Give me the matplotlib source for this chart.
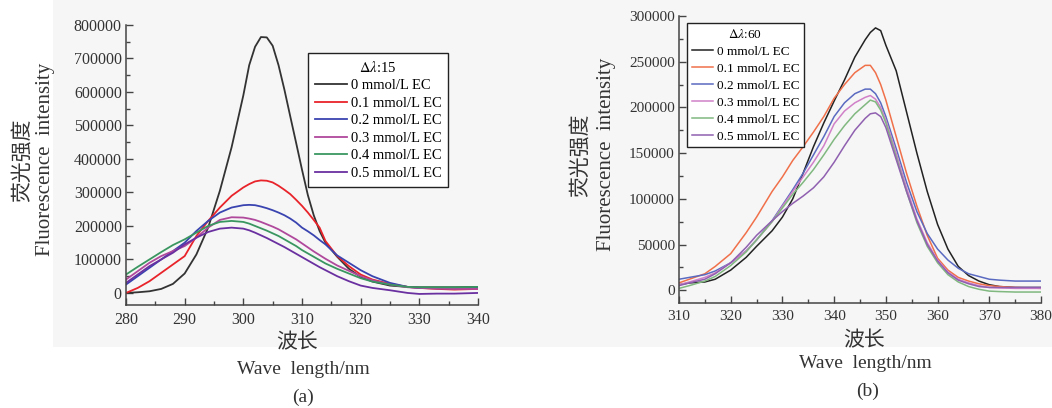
import numpy as np
import matplotlib
matplotlib.use("Agg")
import matplotlib.pyplot as plt
from matplotlib.patches import Rectangle
from matplotlib.ticker import MultipleLocator

plt.rcParams['font.family'] = ['Liberation Serif', 'Noto Sans CJK SC']
plt.rcParams['mathtext.fontset'] = 'stix'

LABELS = ["0 mmol/L EC", "0.1 mmol/L EC", "0.2 mmol/L EC",
          "0.3 mmol/L EC", "0.4 mmol/L EC", "0.5 mmol/L EC"]

# (a) synchronous spectra, delta lambda = 15 nm
wl_a = [280, 282, 284, 286, 288, 290, 292, 294, 296, 298, 300, 301, 302, 303, 304,
        305, 306, 307, 308, 309, 310, 311, 312, 313, 314, 316, 318, 320, 322, 325,
        328, 330, 333, 336, 340]
ec0_a = [0, 2000, 5000, 12000, 27000, 58000, 115000, 195000, 305000, 435000, 590000,
         680000, 735000, 764000, 763000, 738000, 680000, 607000, 527000, 448000, 368000,
         292000, 232000, 185000, 150000, 108000, 72000, 48000, 34000, 22000, 18000,
         17000, 17000, 17000, 18000]
ec1_a = [0, 15000, 35000, 60000, 85000, 110000, 170000, 215000, 255000, 290000, 315000,
         325000, 333000, 336000, 335000, 330000, 320000, 308000, 295000, 278000, 260000,
         240000, 218000, 195000, 155000, 110000, 80000, 55000, 40000, 27000, 18000,
         15000, 12000, 10000, 12000]
ec2_a = [25000, 50000, 75000, 100000, 125000, 150000, 185000, 215000, 240000, 255000,
         262000, 263000, 262000, 258000, 253000, 247000, 240000, 232000, 222000, 210000,
         195000, 184000, 172000, 158000, 145000, 112000, 90000, 68000, 50000, 30000,
         18000, 15000, 14000, 14000, 15000]
ec3_a = [40000, 65000, 90000, 110000, 125000, 140000, 165000, 195000, 218000, 226000,
         225000, 222000, 218000, 212000, 205000, 198000, 190000, 180000, 170000, 160000,
         148000, 136000, 124000, 113000, 102000, 82000, 66000, 50000, 38000, 25000,
         17000, 15000, 13000, 12000, 12000]
ec4_a = [55000, 78000, 100000, 122000, 143000, 160000, 180000, 200000, 212000, 215000,
         212000, 207000, 200000, 193000, 186000, 178000, 170000, 160000, 150000, 140000,
         128000, 118000, 108000, 98000, 88000, 72000, 58000, 44000, 34000, 25000,
         18000, 17000, 17000, 17000, 18000]
ec5_a = [30000, 55000, 80000, 100000, 120000, 145000, 165000, 182000, 192000, 195000,
         192000, 187000, 180000, 172000, 164000, 155000, 146000, 137000, 127000, 117000,
         107000, 97000, 87000, 77000, 68000, 50000, 35000, 22000, 15000, 8000,
         0, -3000, -2000, -2000, 0]

# (b) synchronous spectra, delta lambda = 60 nm
wl_b = [310, 312, 315, 317, 320, 323, 325, 328, 330, 332, 334, 336, 338, 340, 342,
        344, 346, 347, 348, 349, 350, 352, 354, 356, 358, 360, 362, 364, 366, 368,
        370, 372, 375, 380]
ec0_b = [6000, 8000, 9000, 12000, 22000, 36000, 48000, 65000, 80000, 100000, 128000,
         157000, 183000, 207000, 230000, 255000, 274000, 282000, 287000, 284000, 268000,
         240000, 195000, 150000, 108000, 72000, 45000, 26000, 16000, 10000, 6000,
         4000, 3000, 3000]
ec1_b = [8000, 12000, 18000, 26000, 40000, 63000, 80000, 108000, 124000, 142000, 157000,
         173000, 190000, 210000, 225000, 238000, 246000, 246000, 238000, 225000, 208000,
         168000, 128000, 92000, 60000, 35000, 22000, 14000, 10000, 7000, 5000,
         4000, 3000, 2000]
ec2_b = [12000, 14000, 17000, 21000, 30000, 43000, 55000, 76000, 93000, 110000, 128000,
         148000, 168000, 190000, 205000, 215000, 220000, 220000, 215000, 205000, 190000,
         155000, 118000, 86000, 62000, 45000, 33000, 24000, 18000, 15000, 12000,
         11000, 10000, 10000]
ec3_b = [6000, 9000, 14000, 19000, 30000, 43000, 55000, 75000, 92000, 108000, 124000,
         140000, 158000, 182000, 196000, 205000, 211000, 213000, 209000, 200000, 186000,
         150000, 112000, 78000, 52000, 33000, 20000, 12000, 8000, 5000, 3000,
         2500, 2000, 2000]
ec4_b = [2000, 5000, 10000, 15000, 27000, 42000, 55000, 75000, 90000, 105000, 118000,
         132000, 148000, 165000, 180000, 193000, 203000, 208000, 206000, 197000, 183000,
         146000, 108000, 74000, 48000, 30000, 17000, 9000, 4000, 1000, -1000,
         -1500, -2000, -2000]
ec5_b = [5000, 8000, 12000, 18000, 30000, 47000, 60000, 76000, 86000, 95000, 103000,
         112000, 124000, 140000, 158000, 175000, 188000, 193000, 194000, 190000, 178000,
         143000, 108000, 76000, 50000, 32000, 19000, 11000, 7000, 4000, 3000,
         3000, 3000, 3000]

colors_a = ["#333333", "#e8232a", "#3a44b0", "#b0489c", "#3a9660", "#6a30a0"]
colors_b = ["#222222", "#f0704a", "#5a6ac0", "#d080c8", "#80b880", "#9060b0"]

W, H = 1052, 408
fig = plt.figure(figsize=(W / 100, H / 100), dpi=100)
fig.patches.append(Rectangle((53 / W, 1 - 347 / H), 1 - 53 / W, 347 / H,
                             transform=fig.transFigure, facecolor="#f6f6f6",
                             edgecolor="none", zorder=-10))


def px_axes(x0, y0, x1, y1):
    # axes rectangle given in pixel coordinates (top-left origin)
    ax = fig.add_axes([x0 / W, 1 - y1 / H, (x1 - x0) / W, (y1 - y0) / H])
    ax.set_zorder(1)
    return ax


def style(ax, xlim, ylim, xmaj, xmin, ymaj, ymin, fs):
    ax.set_facecolor("none")
    ax.set_xlim(*xlim)
    ax.set_ylim(*ylim)
    ax.spines["top"].set_visible(False)
    ax.spines["right"].set_visible(False)
    for s in ("left", "bottom"):
        ax.spines[s].set_linewidth(1.1)
        ax.spines[s].set_color("#444444")
    ax.xaxis.set_major_locator(MultipleLocator(xmaj))
    ax.xaxis.set_minor_locator(MultipleLocator(xmin))
    ax.yaxis.set_major_locator(MultipleLocator(ymaj))
    ax.yaxis.set_minor_locator(MultipleLocator(ymin))
    ax.tick_params(which="both", direction="in", colors="#444444", width=1.0,
                   labelsize=fs, labelcolor="#333333")
    ax.tick_params(which="major", length=5)
    ax.tick_params(axis="x", which="major", pad=5)
    ax.tick_params(axis="y", which="major", pad=3)
    ax.tick_params(which="minor", length=3)


# ---- (a) ----
ax1 = px_axes(126, 25, 478, 305)
series_a = [ec0_a, ec1_a, ec2_a, ec3_a, ec4_a, ec5_a]
for vals, c, lab in zip(series_a, colors_a, LABELS):
    ax1.plot(wl_a, vals, color=c, lw=1.3, label=lab)
style(ax1, (280, 340), (-36000, 800000), 10, 5, 100000, 50000, 11.5)
ax1.set_yticks(np.arange(0, 800001, 100000))
ax1.set_yticklabels([str(int(v)) for v in np.arange(0, 800001, 100000)])
leg1 = ax1.legend(loc="upper left", bbox_to_anchor=(308 / W, 1 - 53 / H),
                  bbox_transform=fig.transFigure, borderaxespad=0,
                  title=r"$\Delta\lambda$:15", title_fontsize=10.5, fontsize=10.5,
                  frameon=True, fancybox=False, edgecolor="#222222",
                  facecolor="white", framealpha=1, handlelength=2.2,
                  handletextpad=0.3, labelspacing=0.3, borderpad=0.45)
leg1.get_frame().set_linewidth(1.0)

# ---- (b) ----
ax2 = px_axes(679, 16, 1041, 303)
series_b = [ec0_b, ec1_b, ec2_b, ec3_b, ec4_b, ec5_b]
for vals, c, lab in zip(series_b, colors_b, LABELS):
    ax2.plot(wl_b, vals, color=c, lw=1.1, label=lab)
style(ax2, (310, 380), (-14000, 300000), 10, 5, 50000, 25000, 11)
ax2.set_yticks(np.arange(0, 300001, 50000))
ax2.set_yticklabels([str(int(v)) for v in np.arange(0, 300001, 50000)])
leg2 = ax2.legend(loc="upper left", bbox_to_anchor=(687 / W, 1 - 23 / H),
                  bbox_transform=fig.transFigure, borderaxespad=0,
                  title=r"$\Delta\lambda$:60", title_fontsize=9.5, fontsize=9.5,
                  frameon=True, fancybox=False, edgecolor="#222222",
                  facecolor="white", framealpha=1, handlelength=1.6,
                  handletextpad=0.3, labelspacing=0.36, borderpad=0.35)
leg2.get_frame().set_linewidth(1.0)

# axis titles, Chinese line above the English one
def ftext(x, y, s, **kw):
    fig.text(x / W, 1 - y / H, s, ha="center", va="center", color="#333333", **kw)

cjk = ["Noto Sans CJK SC"]
ftext(22, 160, "荧光强度", rotation=90, fontsize=15, family=cjk)
ftext(46, 159, "Fluorescence  intensity", rotation=90, fontsize=15)
ftext(297, 342, "波长", fontsize=15, family=cjk)
ftext(303, 369, "Wave  length/nm", fontsize=14)
ftext(303, 397, "(a)", fontsize=14)

ftext(580, 155, "荧光强度", rotation=90, fontsize=15, family=cjk)
ftext(606, 154, "Fluorescence  intensity", rotation=90, fontsize=15)
ftext(864, 340, "波长", fontsize=15, family=cjk)
ftext(865, 364, "Wave  length/nm", fontsize=14)
ftext(868, 391, "(b)", fontsize=14)

fig.savefig("out.png", dpi=100)
